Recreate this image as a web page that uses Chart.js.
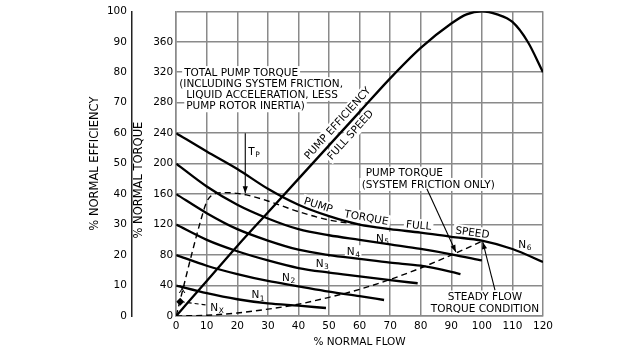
<!DOCTYPE html>
<html><head><meta charset="utf-8">
<script src="https://cdn.jsdelivr.net/npm/chart.js@4.4.1/dist/chart.umd.min.js"></script>
<style>html,body{margin:0;padding:0;background:#fff}#wrap{width:642px;height:350px}</style>
</head><body><div id="wrap"><canvas id="c" width="642" height="350"></canvas></div>
<script>
// ---- tick labels ----
const flowTicks = [0,10,20,30,40,50,60,70,80,90,100,110,120];
const torqueTickLabels = [0,40,80,120,160,200,240,280,320,360];
const effTickLabels = [0,10,20,30,40,50,60,70,80,90,100];

// ---- series (x = % normal flow) ----
const effFlow   = [0,10,20,30,40,50,60,70,80,90,95,100,105,110,115,120];
const effValue  = [0,11.5,23,34,45,56,67,78,88,96,99,100,99,96.5,90,80];

const n6Flow    = [0,10,20,30,40,50,60,70,80,90,100,110,120];
const n6Torque  = [240,216,193,167,146,131,120,114,109.5,104,99,88,71];

const n5Flow    = [0,10,20,30,40,50,60,70,80,90,100];
const n5Torque  = [200,170,146,128,114,106,100,94,88,81,73];

const n4Flow    = [0,10,20,30,40,50,60,70,80,90,93];
const n4Torque  = [160,135,114,99,87,80,75,70,66,58,55];

const n3Flow    = [0,10,20,30,40,50,60,70,79];
const n3Torque  = [120,100,85,73,63,57,52,47,43];

const n2Flow    = [0,10,20,30,40,50,60,68];
const n2Torque  = [80,66,55,46,39,32,26,21];

const n1Flow    = [0,10,20,30,40,49];
const n1Torque  = [40,30,22,16.5,13.5,10.5];

const totalFlow   = [0,2,5,8,10,11.5,13,16,20,23,30,40,50,60];
const totalTorque = [0,32,80,125,150,158,161,162,161,159,151,137,126,120];

const steadyFlow   = [0,10,20,30,40,50,60,70,80,90,100];
const steadyTorque = [0,1,4,9,15.5,24.5,35,48,63,80,98];

const nxPointFlow = [1.3];
const nxPointTorque = [18.6];

// arrows: [flowStart, torqueStart, flowEnd, torqueEnd]
const arrowTp       = [22.6,240,22.6,161];
const arrowFriction = [82,167,91.5,84];
const arrowSteady   = [104.3,34,100.3,97];
const arrowNx       = [9.6,14.6,2.4,18.3];

const pts = (xs, ys) => xs.map((v,i)=>({x:v, y:ys[i]}));
const arr = a => [{x:a[0],y:a[1]},{x:a[2],y:a[3]}];

const FONT = 'DejaVu Sans';
Chart.defaults.font.family = FONT;
Chart.defaults.color = '#000';

const curve = (data, extra) => Object.assign({data, showLine:true, borderColor:'#000', backgroundColor:'#000', borderWidth:2.3,
  pointRadius:0, pointHoverRadius:0, cubicInterpolationMode:'monotone', yAxisID:'y'}, extra||{});
const arrowDs = (a, extra) => Object.assign({data:arr(a), showLine:true, borderColor:'#000', borderWidth:1.1, pointRadius:0, tension:0, yAxisID:'y', isArrow:true}, extra||{});

const GRID = '#8a8a8a';

// annotation texts (positions in data units: flow, torque)
const notes = [
  {t:'TOTAL PUMP TORQUE', x:2.6, y:319.5, align:'left'},
  {t:'(INCLUDING SYSTEM FRICTION,', x:1.0, y:305, align:'left'},
  {t:'LIQUID ACCELERATION, LESS', x:3.3, y:291, align:'left'},
  {t:'PUMP ROTOR INERTIA)', x:3.3, y:276, align:'left'},
  {t:'PUMP EFFICIENCY', x:52.8, y:253, rot:-48},
  {t:'FULL SPEED', x:57, y:237.7, rot:-48},
  {t:'PUMP', x:46.5, y:145.5, rot:18},
  {t:'TORQUE', x:62.2, y:129, rot:10},
  {t:'FULL', x:79.3, y:118.8, rot:5},
  {t:'SPEED', x:96.9, y:109.5, rot:8},
  {t:'PUMP TORQUE', x:62, y:187.6, align:'left'},
  {t:'(SYSTEM FRICTION ONLY)', x:60.7, y:172.7, align:'left'},
  {t:'STEADY FLOW', x:101, y:25},
  {t:'TORQUE CONDITION', x:101, y:10},
  {t:'T', sub:'P', x:23.6, y:215.6, align:'left'},
  {t:'N', sub:'1', x:26.7, y:27.3},
  {t:'N', sub:'2', x:36.7, y:50.6},
  {t:'N', sub:'3', x:47.7, y:68.8},
  {t:'N', sub:'4', x:57.9, y:84.4},
  {t:'N', sub:'5', x:67.4, y:102},
  {t:'N', sub:'6', x:114, y:93.5},
  {t:'N', sub:'X', x:13.3, y:11},
  {t:'X', x:1.9, y:35, nobg:true}
];
const FS = 10.5, SFS = 7.5, TFS = 11.5;

function layoutNote(ctx, n){
  ctx.font = FS + 'px "' + FONT + '"';
  const w1 = ctx.measureText(n.t).width;
  let w2 = 0;
  if (n.sub){ ctx.font = SFS + 'px "' + FONT + '"'; w2 = ctx.measureText(n.sub).width; }
  return {w1, w2, w:w1+w2};
}

const annot = {
  id:'annot',
  beforeDatasetsDraw(chart){
    const {ctx, scales:{x, y}} = chart;
    notes.forEach(n=>{
      if (n.nobg) return;
      const L = layoutNote(ctx, n);
      ctx.save();
      ctx.translate(x.getPixelForValue(n.x), y.getPixelForValue(n.y));
      ctx.rotate((n.rot||0)*Math.PI/180);
      const x0 = n.align==='left' ? 0 : -L.w/2;
      ctx.fillStyle = '#fff';
      ctx.fillRect(x0-2, -6.5, L.w+4, 13);
      ctx.restore();
    });
  },
  afterDatasetsDraw(chart){
    const {ctx, scales:{x, y}} = chart;
    chart.data.datasets.forEach((ds, i)=>{
      if (!ds.isArrow || ds.noHead) return;
      const m = chart.getDatasetMeta(i).data;
      const p0 = m[0], p1 = m[1];
      const ang = Math.atan2(p1.y-p0.y, p1.x-p0.x);
      ctx.save();
      ctx.translate(p1.x, p1.y); ctx.rotate(ang);
      ctx.beginPath(); ctx.moveTo(0,0); ctx.lineTo(-7,-2.6); ctx.lineTo(-7,2.6); ctx.closePath();
      ctx.fillStyle = '#000'; ctx.fill();
      ctx.restore();
    });
    notes.forEach(n=>{
      const L = layoutNote(ctx, n);
      ctx.save();
      ctx.translate(x.getPixelForValue(n.x), y.getPixelForValue(n.y));
      ctx.rotate((n.rot||0)*Math.PI/180);
      const x0 = n.align==='left' ? 0 : -L.w/2;
      ctx.fillStyle = '#000';
      ctx.textBaseline = 'middle'; ctx.textAlign = 'left';
      ctx.font = FS + 'px "' + FONT + '"';
      ctx.fillText(n.t, x0, 0.5);
      if (n.sub){
        ctx.font = SFS + 'px "' + FONT + '"';
        ctx.fillText(n.sub, x0 + L.w1 + 0.5, 3.5);
      }
      ctx.restore();
    });
  }
};

new Chart(document.getElementById('c'), {
  type:'scatter',
  data:{datasets:[
    curve(pts(effFlow, effValue), {yAxisID:'eff'}),
    curve(pts(n6Flow, n6Torque)),
    curve(pts(n5Flow, n5Torque)),
    curve(pts(n4Flow, n4Torque)),
    curve(pts(n3Flow, n3Torque)),
    curve(pts(n2Flow, n2Torque)),
    curve(pts(n1Flow, n1Torque)),
    curve(pts(totalFlow, totalTorque), {borderWidth:1.4, borderDash:[6,4]}),
    curve(pts(steadyFlow, steadyTorque), {borderWidth:1.4, borderDash:[6,4]}),
    arrowDs(arrowTp),
    arrowDs(arrowFriction),
    arrowDs(arrowSteady),
    arrowDs(arrowNx, {borderDash:[4,3], noHead:true}),
    {data:pts(nxPointFlow, nxPointTorque), yAxisID:'y', pointStyle:'rectRot', pointRadius:4, backgroundColor:'#000', borderColor:'#000', borderWidth:0}
  ]},
  options:{
    responsive:false, animation:false, devicePixelRatio:1,
    layout:{padding:{left:87.6, right:99, top:8, bottom:2}},
    plugins:{legend:{display:false}, tooltip:{enabled:false}},
    scales:{
      x:{type:'linear', position:'bottom', min:0, max:120,
        afterBuildTicks: s => { s.ticks = flowTicks.map(v=>({value:v})); },
        ticks:{padding:5, autoSkip:false, maxRotation:0, font:{size:FS, lineHeight:1}, color:'#000'},
        grid:{color:GRID, lineWidth:1.5, drawTicks:false},
        border:{color:GRID, width:1.5},
        title:{display:true, text:'% NORMAL FLOW', color:'#000', font:{size:FS, lineHeight:1}, padding:{top:1, bottom:0}}
      },
      y:{type:'linear', position:'left', weight:0, min:0, max:400,
        ticks:{stepSize:40, padding:3, font:{size:FS}, color:'#000',
          callback: v => torqueTickLabels.includes(v) ? String(v) : ''},
        grid:{color:GRID, lineWidth:1.5, drawTicks:false},
        border:{color:GRID, width:1.5},
        title:{display:true, text:'% NORMAL TORQUE         ', color:'#000', font:{size:TFS}, padding:{top:0, bottom:4.4}}
      },
      eff:{type:'linear', position:'left', weight:1, min:0, max:100,
        ticks:{stepSize:10, padding:5, font:{size:FS}, color:'#000',
          callback: v => effTickLabels.includes(v) ? String(v) : ''},
        grid:{display:false, drawTicks:false},
        border:{color:'#222', width:1.5},
        title:{display:true, text:'% NORMAL EFFICIENCY', color:'#000', font:{size:TFS}, padding:{top:0.5, bottom:0}}
      }
    }
  },
  plugins:[annot]
});
</script></body></html>
